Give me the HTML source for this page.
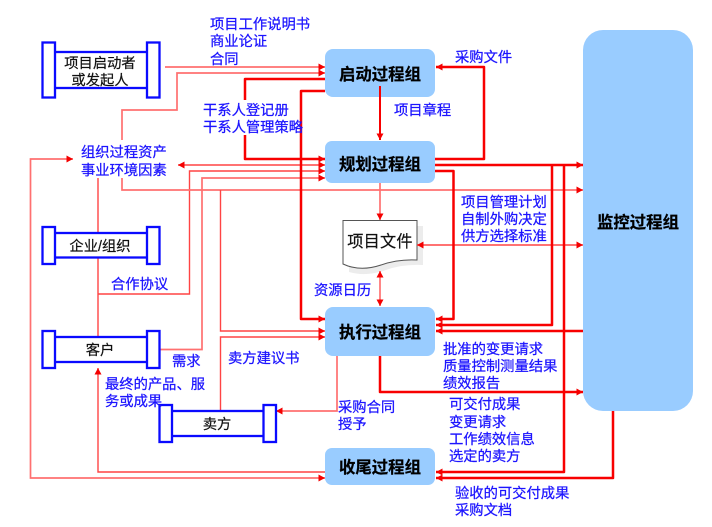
<!DOCTYPE html>
<html><head><meta charset="utf-8"><style>
html,body{margin:0;padding:0;background:#fff}
svg{display:block}
text{font-family:"Liberation Sans","Noto Sans CJK SC",sans-serif}
.b{font-size:14.3px;fill:#1c14ff;stroke:#1c14ff;stroke-width:.25}
.k{font-size:14.3px;fill:#111;stroke:#111;stroke-width:.2;text-anchor:middle}
.t{font-size:16.4px;font-weight:700;fill:#000;stroke:#000;stroke-width:.25;text-anchor:middle}
.n{fill:none;stroke:#ff4444;stroke-width:1.4}
.p{fill:none;stroke:#ff7070;stroke-width:1.7}
.h{fill:none;stroke:#f80000;stroke-width:2.5;stroke-linejoin:round}
.m{fill:none;stroke:#f80000;stroke-width:2}
.cap{fill:#fff;stroke:#0a0aff;stroke-width:2.3}
.bar{fill:#fff;stroke:#0a0aff;stroke-width:2.3}
.node{fill:#99ccff}
</style></head><body>
<svg width="712" height="527" viewBox="0 0 712 527" xmlns="http://www.w3.org/2000/svg">
<defs>
<marker id="a" markerUnits="userSpaceOnUse" markerWidth="8" markerHeight="8" refX="7" refY="4" orient="auto-start-reverse"><path d="M0.5,0.5 L7,4 L0.500,7.500 Z" fill="#f40000"/></marker>
</defs>

<!-- process nodes -->
<rect class="node" x="583" y="30" width="110" height="381" rx="20"/>
<rect class="node" x="325" y="49" width="110" height="48" rx="8"/>
<rect class="node" x="325" y="141" width="110" height="42" rx="7"/>
<rect class="node" x="325" y="307" width="110" height="49" rx="8"/>
<rect class="node" x="325" y="448" width="110" height="37" rx="7"/>

<!-- document -->
<path d="M349,226 H423 V265 Q402,264 386,270 Q366,277 349,272 Z" fill="#ececec"/>
<path d="M343,220.500 H417 V260 Q398,259 381,265 Q360,272 343,264 Z" fill="#fff" stroke="#555" stroke-width="1"/>
<text class="k" x="380" y="247" style="font-size:16.2px;letter-spacing:.2px">项目文件</text>

<!-- thin lines -->
<path class="p" d="M165,67 H325" marker-end="url(#a)"/>
<path class="p" d="M122,140 V110 H177 V73 H325" marker-end="url(#a)"/>
<path class="n" d="M178,165 H325" marker-start="url(#a)" marker-end="url(#a)"/>
<path class="n" d="M98,337 V178"/>
<path class="n" d="M98,294 H189.500 V171 H325" marker-end="url(#a)"/>
<path class="p" d="M159,349.500 H202 V178 H325" marker-end="url(#a)"/>
<path class="p" d="M122,178 V190 H583" marker-end="url(#a)"/>
<path class="n" d="M220.500,190 V331 H325" marker-end="url(#a)"/>
<path class="n" d="M220.500,411 V337 H325" marker-end="url(#a)"/>
<path class="p" d="M337,356 V411 H276" marker-end="url(#a)"/>
<path class="n" d="M325,472 H98 V368" marker-end="url(#a)"/>
<path class="p" d="M73,159 H30.500 V478 H325" marker-start="url(#a)" marker-end="url(#a)"/>
<path class="p" d="M380,183 V220" marker-end="url(#a)"/>
<path class="p" d="M380,271 V306" marker-start="url(#a)" marker-end="url(#a)"/>
<path class="n" d="M417,245 H583" marker-start="url(#a)" marker-end="url(#a)"/>

<!-- thick lines -->
<path class="h" d="M325,79 H245 V100"/>
<path class="h" d="M245,135 V159 H325" marker-end="url(#a)"/>
<path class="h" d="M325,91 H301 V319 H325" marker-end="url(#a)"/>
<path class="m" d="M380,86 V140" marker-end="url(#a)"/>
<path class="h" d="M435,159 H484 V67 H436" marker-end="url(#a)"/>
<path class="h" d="M435,165 H583" marker-end="url(#a)"/>
<path class="h" d="M552,165 V325 H436" marker-end="url(#a)"/>
<path class="h" d="M564,165 V472 H436" marker-end="url(#a)"/>
<path class="h" d="M435,171 H453.500 V319 H436" marker-end="url(#a)"/>
<path class="h" d="M583,331 H436" marker-end="url(#a)"/>
<path class="h" d="M380,356 V392 H583" marker-end="url(#a)"/>
<path class="h" d="M613,411 V478 H436" marker-end="url(#a)"/>

<!-- actor: initiator -->
<g>
<rect class="bar" x="50" y="52" width="102" height="36"/>
<rect class="cap" x="42.500" y="42.500" width="12.500" height="55"/><rect class="cap" x="147" y="42.500" width="12.500" height="55"/>
<text class="k" x="100" y="68">项目启动者</text><text class="k" x="100" y="85">或发起人</text>
</g>
<!-- actor: enterprise -->
<g>
<rect class="bar" x="50" y="233" width="102" height="24.500"/>
<rect class="cap" x="42.500" y="227" width="12.500" height="37"/><rect class="cap" x="147" y="227" width="12.500" height="37"/>
<text class="k" x="100" y="251">企业/组织</text>
</g>
<!-- actor: customer -->
<g>
<rect class="bar" x="50" y="337" width="102" height="25"/>
<rect class="cap" x="42.500" y="331" width="12.500" height="37"/><rect class="cap" x="147" y="331" width="12.500" height="37"/>
<text class="k" x="100" y="355">客户</text>
</g>
<!-- actor: seller -->
<g>
<rect class="bar" x="167" y="411" width="102" height="25"/>
<rect class="cap" x="159.500" y="405" width="12.500" height="37"/><rect class="cap" x="263.500" y="405" width="12.500" height="37"/>
<text class="k" x="217" y="429">卖方</text>
</g>

<!-- node titles -->
<text class="t" x="380" y="80">启动过程组</text>
<text class="t" x="380" y="170">规划过程组</text>
<text class="t" x="380" y="338">执行过程组</text>
<text class="t" x="380" y="473">收尾过程组</text>
<text class="t" x="638" y="228">监控过程组</text>

<!-- blue labels -->
<text class="b" x="210" y="29">项目工作说明书</text>
<text class="b" x="210" y="46">商业论证</text>
<text class="b" x="210" y="64">合同</text>
<text class="b" x="203" y="115">干系人登记册</text>
<text class="b" x="203" y="132">干系人管理策略</text>
<text class="b" x="81" y="157">组织过程资产</text>
<text class="b" x="81" y="175">事业环境因素</text>
<text class="b" x="455" y="62">采购文件</text>
<text class="b" x="394" y="115">项目章程</text>
<text class="b" x="461" y="207">项目管理计划</text>
<text class="b" x="461" y="224">自制外购决定</text>
<text class="b" x="461" y="241">供方选择标准</text>
<text class="b" x="111" y="289">合作协议</text>
<text class="b" x="172" y="366">需求</text>
<text class="b" x="228" y="363">卖方建议书</text>
<text class="b" x="105" y="389">最终的产品、服</text>
<text class="b" x="105" y="406">务或成果</text>
<text class="b" x="314" y="295">资源日历</text>
<text class="b" x="338" y="412">采购合同</text>
<text class="b" x="338" y="429">授予</text>
<text class="b" x="443" y="354">批准的变更请求</text>
<text class="b" x="443" y="371">质量控制测量结果</text>
<text class="b" x="443" y="388">绩效报告</text>
<text class="b" x="449" y="409">可交付成果</text>
<text class="b" x="449" y="427">变更请求</text>
<text class="b" x="449" y="444">工作绩效信息</text>
<text class="b" x="449" y="461">选定的卖方</text>
<text class="b" x="455" y="498">验收的可交付成果</text>
<text class="b" x="455" y="515">采购文档</text>
</svg>
</body></html>
